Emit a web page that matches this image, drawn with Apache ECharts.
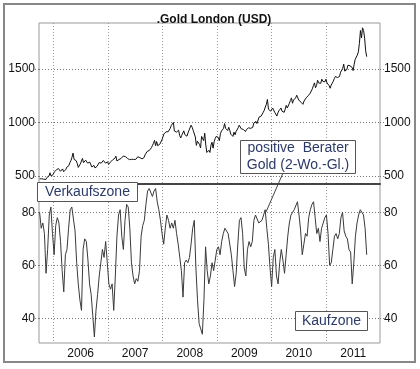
<!DOCTYPE html>
<html><head><meta charset="utf-8">
<script src="https://cdn.jsdelivr.net/npm/echarts@6/dist/echarts.min.js"></script>
<style>html,body{margin:0;padding:0;background:#fff}#c{width:420px;height:369px}</style>
</head><body><div id="c"></div><script>
// ---------- data ----------
const chartTitle = '.Gold London (USD)';
const yearLabels = [2006, 2007, 2008, 2009, 2010, 2011];
const goldTickValues = [500, 1000, 1500];
const oscTickValues = [40, 60, 80];

// weekly gold price (USD), first week ending 2005-09-30
const goldStart = [2005, 8, 30];
const gold2005 = [473,470,474,465,470,460,467,486,494,500,530,500,502,513];
const gold2006 = [537,550,556,568,570,553,544,557,566,540,556,560,582,590,597,625,644,675,714,655,655,643,618,580,585,613,628,664,624,634,648,640,620,624,630,612,584,597,599,575,584,590,605,625,625,620,636,645,630,620,620,632];
const gold2007 = [609,627,632,647,652,666,665,685,640,650,654,662,664,676,686,689,682,681,665,660,653,666,656,654,655,650,655,665,680,665,671,673,660,668,673,700,712,730,743,738,750,765,785,806,833,783,822,783,798,797,812,836];
const gold2008 = [865,893,881,913,908,913,908,945,972,975,1000,920,935,910,925,928,880,855,880,889,922,886,890,872,903,928,931,975,955,925,912,865,786,825,835,795,762,870,880,830,900,790,720,730,740,720,790,815,760,820,850,870];
const gold2009 = [875,860,830,895,920,910,945,990,945,935,925,955,925,890,880,870,910,885,915,925,950,975,960,940,935,935,930,915,935,950,950,960,945,940,955,995,1005,1010,990,1000,1050,1050,1060,1045,1095,1115,1145,1170,1215,1125,1110,1105];
const gold2010 = [1095,1135,1140,1095,1080,1060,1090,1110,1115,1135,1105,1110,1095,1125,1160,1135,1145,1180,1205,1230,1180,1210,1210,1230,1255,1255,1210,1200,1190,1190,1170,1200,1215,1230,1235,1250,1245,1275,1295,1315,1345,1370,1325,1345,1395,1370,1355,1365,1405,1385,1375,1380,1405];
const gold2011 = [1370,1360,1345,1320,1350,1360,1385,1410,1430,1420,1420,1435,1430,1470,1485,1505,1545,1480,1495,1495,1535,1540,1530,1540,1515,1485,1545,1590,1600,1630,1660,1740,1860,1790,1885,1860,1790,1670,1615];

// "positive Berater Gold (2-Wo.-Gl.)" in %, evenly spaced from 2005-09-30 to 2011-09-30
const oscStart = [2005, 8, 30];
const oscEnd = [2011, 8, 30];
const osc2005_2007 = [80,74,76,72,57,66,79,82,72,64,75,78,76,69,58,50,64,66,74,81,82,82,73,61,53,47,43,66,70,69,62,53,49,41,33,43,49,56,61,66,63,69,61,53,51,53,43,56,71,79,81,71,66,77,83,82,74,61,56,53,55,54,58,71,75,77,83,88,89];
const osc2008_2009 = [89,86,88,89,84,81,77,72,68,74,79,77,74,76,74,77,72,68,63,58,48,61,62,61,63,68,74,77,59,47,38,36,34,47,67,58,53,56,61,58,62,66,67,64,69,72,74,74,72,72,64,58,52,57,68,77,78,72,59,56,66,69,67,69,77,79,79];
const osc2010_2011 = [76,76,77,79,81,74,68,59,52,63,66,56,53,61,66,62,57,64,71,76,79,80,81,81,84,79,73,64,68,72,71,78,81,83,84,78,72,74,69,74,76,78,79,72,60,61,66,71,72,70,72,78,80,73,71,70,66,65,53,61,71,76,79,81,81,79,74,64];

// ---------- build ----------
const DAY = 86400000;
const utc = a => Date.UTC(a[0], a[1], a[2]);
const goldVals = [].concat(gold2005, gold2006, gold2007, gold2008, gold2009, gold2010, gold2011);
const goldData = goldVals.map((v, i) => [utc(goldStart) + i * 7 * DAY, v]);
const oscVals = [].concat(osc2005_2007, osc2008_2009, osc2010_2011);
const oscStep = (utc(oscEnd) - utc(oscStart)) / (oscVals.length - 1);
const oscData = oscVals.map((v, i) => [utc(oscStart) + i * oscStep, v]);

const xMin = Date.UTC(2005, 8, 26), xMax = Date.UTC(2011, 11, 28);
const yearTicks = yearLabels.map(y => Date.UTC(y, 0, 1));
const yearLabelPos = yearLabels.map(y => Date.UTC(y, 6, 2));

const FONT = 'Liberation Sans, Arial, sans-serif';
const TXT = '#2b3a67';
const lbl = { color: '#111', fontSize: 12, fontFamily: FONT };

function yAx(grid, pos, min, max, ticks, withSplit) {
  return {
    type: 'value', gridIndex: grid, position: pos, min: min, max: max,
    axisLine: { show: false },
    axisTick: { show: true, length: 4, customValues: ticks, lineStyle: { color: '#777', type: [1, 2] } },
    axisLabel: Object.assign({ margin: 4, customValues: ticks, formatter: v => String(v) }, lbl),
    splitLine: { show: withSplit, lineStyle: { color: '#777', type: [1, 2], width: 1 } }
  };
}

const chart = echarts.init(document.getElementById('c'), null, { renderer: 'canvas' });
chart.setOption({
  animation: false,
  backgroundColor: '#fff',
  title: { text: chartTitle, left: 209, top: 9, textAlign: 'center',
           textStyle: { fontSize: 12, fontWeight: 'bold', fontFamily: FONT, color: '#111' } },
  grid: [
    { left: 39, right: 40, top: 23, height: 161, show: true, borderColor: '#999', borderWidth: 1 },
    { left: 39, right: 40, top: 184, height: 159, show: true, borderColor: '#999', borderWidth: 1 }
  ],
  xAxis: [
    { type: 'value', gridIndex: 0, min: xMin, max: xMax,
      axisLine: { show: true, onZero: false, lineStyle: { color: '#444', width: 2 } },
      axisTick: { show: false, customValues: yearTicks },
      axisLabel: { show: false, customValues: yearTicks },
      splitLine: { show: true, lineStyle: { color: '#999', type: [1, 2] } } },
    { type: 'value', gridIndex: 1, min: xMin, max: xMax,
      axisLine: { show: false, onZero: false },
      axisTick: { show: false, customValues: yearTicks },
      axisLabel: Object.assign({ margin: 5, customValues: yearLabelPos,
        formatter: v => String(new Date(v).getUTCFullYear()) }, lbl),
      splitLine: { show: true, lineStyle: { color: '#999', type: [1, 2] } } }
  ],
  yAxis: [
    yAx(0, 'left', 425, 1930, goldTickValues, true),
    yAx(0, 'right', 425, 1930, goldTickValues, false),
    yAx(1, 'left', 30.7, 90.7, oscTickValues, true),
    yAx(1, 'right', 30.7, 90.7, oscTickValues, false)
  ],
  series: [
    { type: 'line', xAxisIndex: 0, yAxisIndex: 0, data: goldData, showSymbol: false,
      lineStyle: { color: '#111', width: 1 } },
    { type: 'line', xAxisIndex: 1, yAxisIndex: 2, data: oscData, showSymbol: false,
      lineStyle: { color: '#3a3a3a', width: 1 } }
  ],
  graphic: [
    { type: 'rect', shape: { x: 4, y: 4, width: 411, height: 358 }, silent: true,
      style: { fill: 'none', stroke: '#888', lineWidth: 2 } },
    { type: 'line', shape: { x1: 283, y1: 173, x2: 266, y2: 212 }, style: { stroke: '#444', lineWidth: 1 }, z: 10 },
    { type: 'rect', shape: { x: 37.5, y: 182.5, width: 100, height: 19 }, z: 10,
      style: { fill: '#fff', stroke: '#555', lineWidth: 1 } },
    { type: 'text', x: 87.5, y: 192, z: 11,
      style: { text: 'Verkaufszone', fill: TXT, font: '14px ' + FONT, align: 'center', verticalAlign: 'middle' } },
    { type: 'rect', shape: { x: 240.5, y: 140.5, width: 115, height: 33 }, z: 10,
      style: { fill: '#fff', stroke: '#555', lineWidth: 1 } },
    { type: 'text', x: 298, y: 157, z: 11,
      style: { text: 'positive  Berater\nGold (2-Wo.-Gl.)', fill: TXT, font: '14px ' + FONT,
               align: 'center', verticalAlign: 'middle', lineHeight: 17 } },
    { type: 'rect', shape: { x: 295.5, y: 311.5, width: 72, height: 19 }, z: 10,
      style: { fill: '#fff', stroke: '#555', lineWidth: 1 } },
    { type: 'text', x: 331.5, y: 321, z: 11,
      style: { text: 'Kaufzone', fill: TXT, font: '14px ' + FONT, align: 'center', verticalAlign: 'middle' } }
  ]
});
</script></body></html>
